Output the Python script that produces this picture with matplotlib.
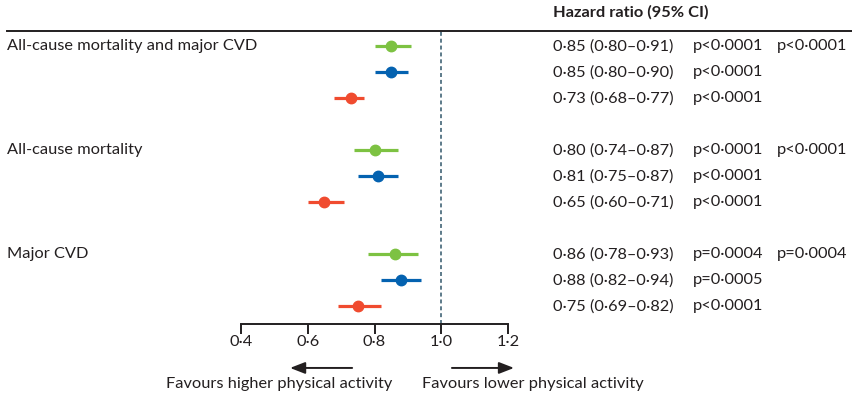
import matplotlib.pyplot as plt
import matplotlib.transforms as mtransforms
from matplotlib.lines import Line2D

plt.rcParams['font.family'] = ['Lato', 'DejaVu Sans']

# outcome groups, three estimates per group
outcomes = ['All-cause mortality and major CVD', 'All-cause mortality', 'Major CVD']
hr = [[0.85, 0.85, 0.73], [0.80, 0.81, 0.65], [0.86, 0.88, 0.75]]
lo = [[0.80, 0.80, 0.68], [0.74, 0.75, 0.60], [0.78, 0.82, 0.69]]
hi = [[0.91, 0.90, 0.77], [0.87, 0.87, 0.71], [0.93, 0.94, 0.82]]
pvals = [['p<0·0001', 'p<0·0001', 'p<0·0001'],
         ['p<0·0001', 'p<0·0001', 'p<0·0001'],
         ['p=0·0004', 'p=0·0005', 'p<0·0001']]
p_overall = ['p<0·0001', 'p<0·0001', 'p=0·0004']
colors = ['#7dc242', '#0462b0', '#f04b2f']
xticks = [0.4, 0.6, 0.8, 1.0, 1.2]

INK = '#231f20'
FS = 11.8
W, H = 852, 397


def fmt(v, nd=2):
    return f'{v:.{nd}f}'.replace('.', '·')


fig = plt.figure(figsize=(W / 100, H / 100), dpi=100)

# forest panel: x in hazard ratio units, y in row units
ax = fig.add_axes([241 / W, 1 - 324 / H, 267 / W, 293 / H])
ax.set_xlim(0.4, 1.2)
ax.set_ylim(10.69, -0.58)

# x in figure fraction, y in row units, for the text columns
px = mtransforms.blended_transform_factory(fig.transFigure, ax.transData)

for g in range(3):
    for j in range(3):
        y = g * 4 + j
        ax.plot([lo[g][j], hi[g][j]], [y, y], color=colors[j], lw=2.3,
                solid_capstyle='butt', zorder=3)
        ax.plot(hr[g][j], y, 'o', color=colors[j], ms=7.5, zorder=4)
        txt = f'{fmt(hr[g][j])} ({fmt(lo[g][j])}–{fmt(hi[g][j])})'
        ax.text(553 / W, y, txt, transform=px, fontsize=FS, va='center',
                color=INK, clip_on=False)
        ax.text(693 / W, y, pvals[g][j], transform=px, fontsize=FS,
                va='center', color=INK, clip_on=False)
    ax.text(7 / W, g * 4, outcomes[g], transform=px, fontsize=FS,
            va='center', color=INK, clip_on=False)
    ax.text(777 / W, g * 4, p_overall[g], transform=px, fontsize=FS,
            va='center', color=INK, clip_on=False)

# reference line at HR = 1
ax.axvline(1.0, color='#4f6f80', lw=1.3, ls=(0, (2.2, 1.6)), zorder=1)

# header and top rule
fig.text(553 / W, 1 - 12 / H, 'Hazard ratio (95% CI)', fontsize=FS,
         fontweight='bold', va='center', color=INK)
fig.add_artist(Line2D([7 / W, 1], [1 - 31 / H, 1 - 31 / H],
                      transform=fig.transFigure, color=INK, lw=1.4))

# axis
for s in ['top', 'right', 'left']:
    ax.spines[s].set_visible(False)
ax.spines['bottom'].set_linewidth(1.4)
ax.spines['bottom'].set_color(INK)
ax.set_yticks([])
ax.set_xticks(xticks)
ax.set_xticklabels([fmt(t, 1) for t in xticks], fontsize=FS, color=INK)
ax.tick_params(axis='x', direction='out', length=7, width=1.4, pad=1,
               color=INK)
ax.patch.set_visible(False)

# direction arrows
arrow = dict(arrowstyle='-|>,head_length=0.9,head_width=0.35',
             color=INK, lw=1.4, shrinkA=0, shrinkB=0)
ax.annotate('', xy=(0.547, -0.150), xytext=(0.733, -0.150),
            xycoords=('data', 'axes fraction'), arrowprops=arrow,
            annotation_clip=False)
ax.annotate('', xy=(1.218, -0.150), xytext=(1.032, -0.150),
            xycoords=('data', 'axes fraction'), arrowprops=arrow,
            annotation_clip=False)
ax.text(0.855, -0.205, 'Favours higher physical activity',
        transform=ax.get_xaxis_transform(), ha='right', va='center',
        fontsize=FS, color=INK)
ax.text(0.943, -0.205, 'Favours lower physical activity',
        transform=ax.get_xaxis_transform(), ha='left', va='center',
        fontsize=FS, color=INK)

fig.savefig('out.png', dpi=100)
